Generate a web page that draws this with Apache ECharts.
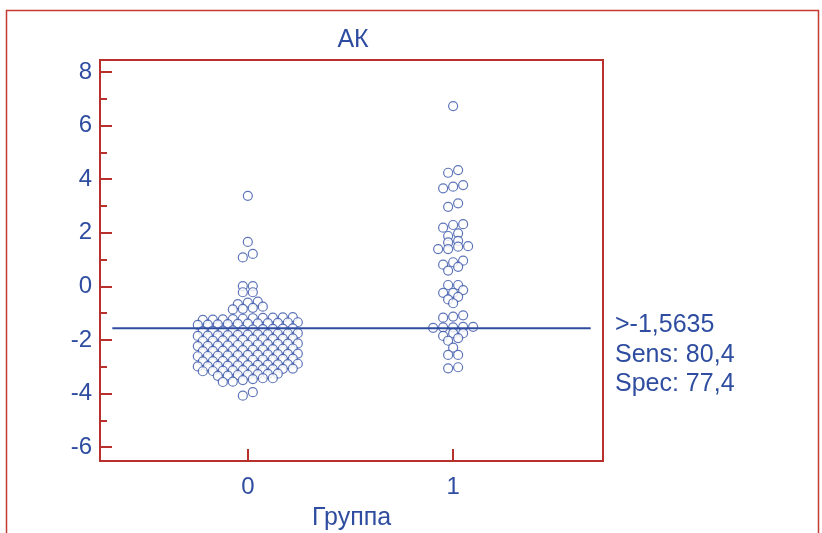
<!DOCTYPE html>
<html><head><meta charset="utf-8">
<script src="https://cdn.jsdelivr.net/npm/echarts@6/dist/echarts.min.js"></script>
<style>html,body{margin:0;padding:0;background:#fff}#c{width:822px;height:533px}</style>
</head><body><div id="c"></div>
<script>
// ---- data ----
const groups = [0, 1];
const group0Values = [
  3.38, 1.66, 1.21, 1.08, 0.01, 0.01, -0.22, -0.22,
  -0.57, -0.61, -0.66, -0.76, -0.80, -0.84, -0.86,
  -1.25, -1.24, -1.23, -1.22, -1.21, -1.19, -1.18, -1.17, -1.16, -1.15,
  -1.44, -1.43, -1.42, -1.41, -1.40, -1.39, -1.38, -1.37, -1.36, -1.35, -1.34,
  -1.67, -1.66, -1.65, -1.64, -1.63, -1.61, -1.60, -1.59, -1.58, -1.57,
  -1.85, -1.84, -1.83, -1.82, -1.81, -1.80, -1.79, -1.78, -1.77, -1.76, -1.75,
  -2.04, -2.03, -2.02, -2.01, -2.00, -1.98, -1.97, -1.96, -1.95, -1.94,
  -2.23, -2.22, -2.21, -2.20, -2.19, -2.18, -2.17, -2.16, -2.15, -2.14, -2.13,
  -2.42, -2.41, -2.40, -2.39, -2.38, -2.36, -2.35, -2.34, -2.33, -2.32,
  -2.61, -2.60, -2.59, -2.58, -2.57, -2.56, -2.55, -2.54, -2.53, -2.52, -2.51,
  -2.80, -2.79, -2.78, -2.77, -2.76, -2.74, -2.73, -2.72, -2.71, -2.70,
  -2.99, -2.98, -2.97, -2.96, -2.95, -2.94, -2.93, -2.92, -2.91, -2.90, -2.89,
  -3.17, -3.16, -3.15, -3.14, -3.13, -3.11, -3.10, -3.09, -3.08, -3.07,
  -3.34, -3.33, -3.31, -3.30, -3.28, -3.27, -3.26,
  -3.57, -3.56, -3.50, -3.46, -3.43, -3.43,
  -3.95, -4.08
];
const group1Values = [
  6.73, 4.34, 4.24, 3.78, 3.72, 3.66, 3.10, 2.97,
  2.32, 2.29, 2.19, 1.98, 1.88, 1.70, 1.64,
  1.50, 1.48, 1.39, 1.39, 0.96, 0.90, 0.81, 0.73, 0.59,
  0.05, 0.05, -0.14, -0.24, -0.24, -0.39, -0.49, -0.63,
  -1.08, -1.13, -1.17, -1.51, -1.51, -1.53, -1.53, -1.55,
  -1.75, -1.75, -1.85, -1.93, -2.03, -2.29, -2.56, -2.56, -3.02, -3.06
];
const cutoff = -1.5635;
const cutoffLineX = [-0.66, 1.67];
const yTicks = [-6, -4, -2, 0, 2, 4, 6, 8];
const yMinorTicks = [-5, -3, -1, 1, 3, 5, 7];
const xTicks = [0, 1];
const statLines = ['>-1,5635', 'Sens: 80,4', 'Spec: 77,4'];
const titleText = 'АК';
const xName = 'Группа';

// ---- layout constants ----
const X_MIN = -0.72, X_MAX = 1.73, Y_MIN = -6.52, Y_MAX = 8.45;
const PX_PER_X = 503 / (X_MAX - X_MIN);
const DX = 10 / PX_PER_X;     // horizontal dot spacing (10 px)
const BIN_H = 0.155;          // vertical bin height in value units
const BLUE = '#2F4DA0', RED = '#B8302B', FONT = '"Liberation Sans", Arial, sans-serif';

function swarm(values, center) {
  const sorted = values.slice().sort((a, b) => b - a);
  const out = [];
  let i = 0;
  while (i < sorted.length) {
    const top = sorted[i];
    const bin = [];
    while (i < sorted.length && top - sorted[i] < BIN_H) { bin.push(sorted[i]); i++; }
    bin.sort((a, b) => a - b);
    bin.forEach((v, k) => out.push([center + (k - (bin.length - 1) / 2) * DX, v]));
  }
  return out;
}

const chart = echarts.init(document.getElementById('c'), null, {renderer: 'canvas'});
const dotStyle = {color: '#ffffff', borderColor: '#3653A8', borderWidth: 1.2};

chart.setOption({
  animation: false,
  title: {
    text: titleText, left: 348, top: 23, textAlign: 'center',
    textStyle: {color: BLUE, fontSize: 25, fontWeight: 'normal', fontFamily: FONT}
  },
  grid: {left: 100, top: 60, right: 219, bottom: 72, show: true, borderColor: RED, borderWidth: 2,
         containLabel: false, outerBoundsMode: 'none'},
  xAxis: {
    type: 'value', min: X_MIN, max: X_MAX,
    name: xName, nameLocation: 'middle', nameGap: 45,
    nameTextStyle: {color: BLUE, fontSize: 25, fontFamily: FONT},
    axisLine: {show: true, onZero: false, lineStyle: {color: RED, width: 2}},
    axisTick: {show: true, inside: true, length: 12, customValues: xTicks, lineStyle: {color: RED, width: 2}},
    axisLabel: {show: true, customValues: xTicks, margin: 14, color: BLUE, fontSize: 24, fontFamily: FONT},
    splitLine: {show: false}
  },
  yAxis: [{
    type: 'value', min: Y_MIN, max: Y_MAX, position: 'left',
    axisLine: {show: true, onZero: false, lineStyle: {color: RED, width: 2}},
    axisTick: {show: true, inside: true, length: 12, customValues: yTicks, lineStyle: {color: RED, width: 2}},
    axisLabel: {show: true, customValues: yTicks, margin: 8, color: BLUE, fontSize: 24, fontFamily: FONT},
    splitLine: {show: false}
  }, {
    type: 'value', min: Y_MIN, max: Y_MAX, position: 'left',
    axisLine: {show: false, onZero: false},
    axisTick: {show: true, inside: true, length: 7, customValues: yMinorTicks, lineStyle: {color: RED, width: 2}},
    axisLabel: {show: false},
    splitLine: {show: false}
  }],
  series: [
    {type: 'scatter', name: String(groups[0]), data: swarm(group0Values, groups[0]), symbol: 'circle', symbolSize: 9, itemStyle: dotStyle, z: 3},
    {type: 'scatter', name: String(groups[1]), data: swarm(group1Values, groups[1]), symbol: 'circle', symbolSize: 9, itemStyle: dotStyle, z: 3},
    {type: 'line', data: cutoffLineX.map(x => [x, cutoff]), symbol: 'none', lineStyle: {color: BLUE, width: 2.2}, z: 5, silent: true}
  ],
  graphic: [
    {type: 'rect', shape: {x: 6.5, y: 10.5, width: 812, height: 560}, style: {fill: 'none', stroke: '#C23A30', lineWidth: 1.5}, silent: true},
    ...statLines.map((t, i) => ({
      type: 'text', x: 615, y: [325, 355, 384][i],
      style: {text: t, fill: BLUE, font: '25px ' + FONT, verticalAlign: 'middle', align: 'left'}
    }))
  ]
});
</script>
</body></html>
